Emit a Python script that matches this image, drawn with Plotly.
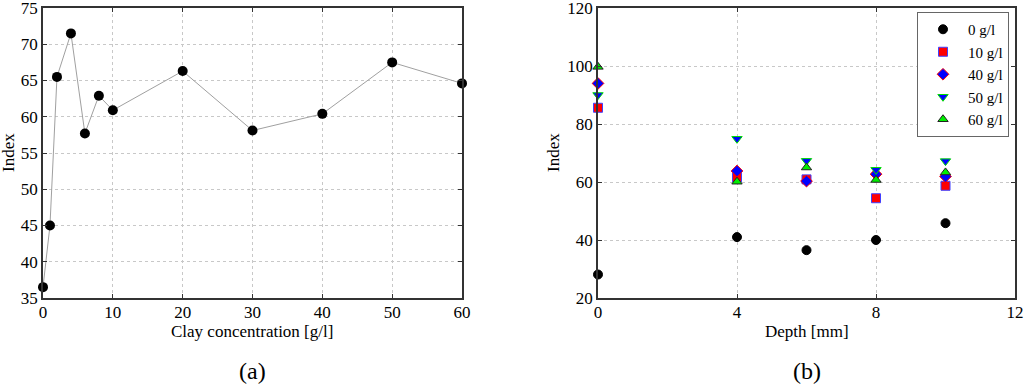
import plotly.graph_objects as go

# (a) index vs clay concentration
clay_conc = [0, 1, 2, 4, 6, 8, 10, 20, 30, 40, 50, 60]
clay_index = [36.5, 45.0, 65.5, 71.5, 57.7, 62.9, 60.9, 66.3, 58.1, 60.4, 67.5, 64.6]

# (b) index vs depth for each concentration
depth = [0, 4, 6, 8, 10]
idx_0 = [28.1, 41.0, 36.5, 40.0, 45.8]
idx_10 = [85.6, 61.6, 60.9, 54.4, 58.7]
idx_40 = [94.0, 63.8, 60.3, 62.7, 61.9]
idx_50 = [90.0, 74.9, 67.3, 64.2, 67.2]
idx_60 = [99.7, 60.1, 65.0, 60.7, 63.3]

FONT = "Liberation Serif, Times New Roman, serif"

fig = go.Figure()

fig.add_trace(go.Scatter(x=clay_conc, y=clay_index, mode="lines+markers",
                         line=dict(color="#a0a0a0", width=1),
                         marker=dict(color="black", size=10),
                         cliponaxis=False, showlegend=False, xaxis="x", yaxis="y"))

series = [
    ("0 g/l", idx_0, "circle", "black", "black"),
    ("10 g/l", idx_10, "square", "red", "#4040ff"),
    ("40 g/l", idx_40, "diamond", "blue", "red"),
    ("50 g/l", idx_50, "triangle-down", "blue", "#00dd00"),
    ("60 g/l", idx_60, "triangle-up", "#00ee00", "#222222"),
]
for name, vals, sym, fill, edge in series:
    fig.add_trace(go.Scatter(x=depth, y=vals, mode="markers", name=name,
                             marker=dict(symbol=sym, color=fill, size=9,
                                         line=dict(color=edge, width=1)),
                             cliponaxis=False, xaxis="x2", yaxis="y2"))

W, H = 1024, 385
def px(x0, x1):
    return [x0 / W, x1 / W]
def py(y0, y1):
    return [1 - y1 / H, 1 - y0 / H]

axis_common = dict(showline=True, linecolor="#333", linewidth=1.5, mirror="ticks",
                   ticks="inside", ticklen=4, tickcolor="#333",
                   showgrid=True, gridcolor="#c8c8c8", griddash="dot", gridwidth=1,
                   zeroline=False, automargin=False, ticklabeloverflow="allow",
                   tickfont=dict(size=17, color="black", family=FONT))
x_extra = dict(ticklabelstandoff=-2)

# axis titles and panel labels placed as text at page positions
def label(text, x, y, size, angle=0):
    return dict(text=text, x=x / W, y=1 - y / H, xref="paper", yref="paper",
                xanchor="center", yanchor="middle", textangle=angle,
                showarrow=False, font=dict(size=size, family=FONT, color="black"))

fig.update_layout(
    width=W, height=H,
    margin=dict(l=0, r=0, t=0, b=0),
    paper_bgcolor="white", plot_bgcolor="white",
    font=dict(family=FONT, color="black"),
    xaxis=dict(domain=px(43, 462), range=[0, 60], dtick=10, anchor="y",
               **axis_common, **x_extra),
    yaxis=dict(domain=py(8, 298), range=[35, 75], dtick=5, anchor="x", **axis_common),
    xaxis2=dict(domain=px(598, 1015), range=[0, 12], dtick=4, anchor="y2",
                **axis_common, **x_extra),
    yaxis2=dict(domain=py(8, 298), range=[20, 120], dtick=20, anchor="x2", **axis_common),
    legend=dict(x=1009 / W, y=1 - 12 / H, xanchor="right", yanchor="top",
                bgcolor="white", bordercolor="#666", borderwidth=1,
                font=dict(size=15, family=FONT), itemwidth=40,
                tracegroupgap=0),
    annotations=[
        label("Clay concentration [g/l]", 252, 331, 17),
        label("Depth [mm]", 807, 331, 17),
        label("Index", 8, 153, 17, -90),
        label("Index", 553, 153, 17, -90),
        label("(a)", 252, 371, 24),
        label("(b)", 807, 371, 24),
    ],
)

# page body has a default 8px margin; drop it so the figure fills the window
fig.write_html("out.html", config={"displayModeBar": False},
               post_script="document.body.style.margin='0';")
